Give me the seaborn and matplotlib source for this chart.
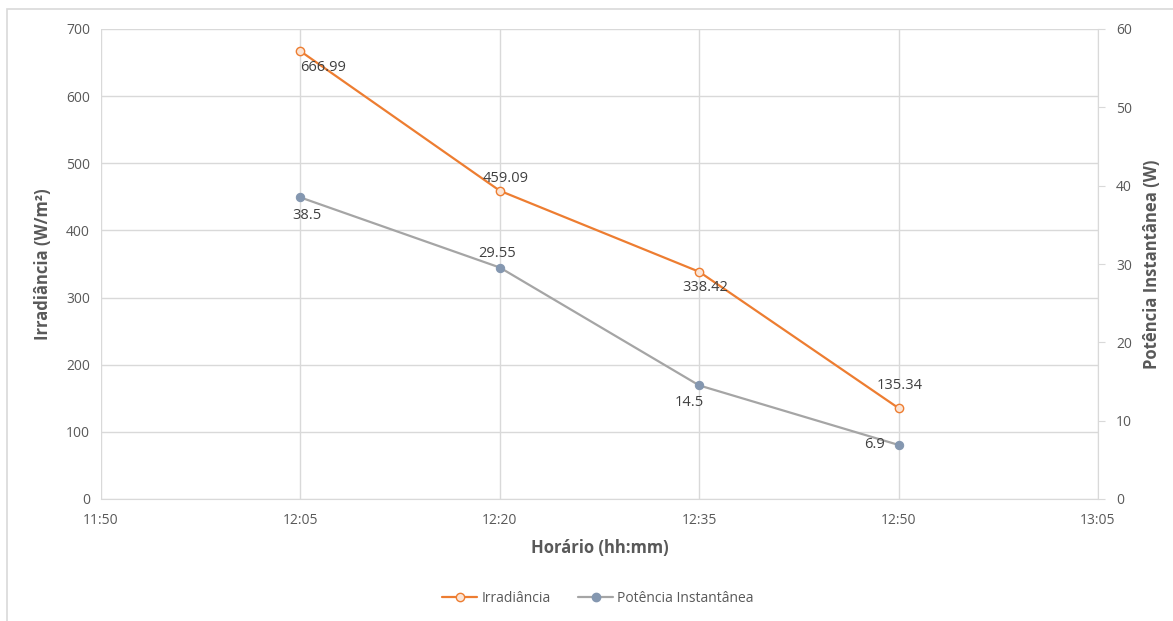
import numpy as np
import pandas as pd
import matplotlib
matplotlib.use("Agg")
import matplotlib.pyplot as plt
from matplotlib.lines import Line2D
from matplotlib.patches import Rectangle
from matplotlib.ticker import FuncFormatter, FixedLocator, MultipleLocator
import seaborn as sns

# dados
horarios = ["12:05", "12:20", "12:35", "12:50"]
irradiancia = [666.99, 459.09, 338.42, 135.34]
potencia = [38.5, 29.55, 14.5, 6.9]
ticks_x = ["11:50", "12:05", "12:20", "12:35", "12:50", "13:05"]

# deslocamento dos rótulos (pixels) e alinhamento
rot_irr = [((0, -16), "left"), ((6, 12), "center"), ((6, -16), "center"), ((1, 23), "center")]
rot_pot = [((7, -18), "center"), ((-3, 14), "center"), ((-10, -17), "center"), ((-14, 0), "right")]


def hhmm_para_min(s):
    h, m = s.split(":")
    return int(h) * 60 + int(m)


df = pd.DataFrame({
    "min": [hhmm_para_min(h) for h in horarios],
    "Irradiância": irradiancia,
    "Potência Instantânea": potencia,
})

sns.set_style("white")
plt.rcParams["font.family"] = ["Open Sans", "DejaVu Sans"]

C_IRR = "#ED7D31"
C_POT = "#A5A5A5"
C_POT_MK = "#8497B0"
C_GRID = "#D9D9D9"
C_TXT = "#595959"
C_LBL = "#404040"

W, H = 1173, 621
fig = plt.figure(figsize=(W / 100, H / 100), dpi=100)
ax = fig.add_axes([101 / W, (H - 499) / H, (1098 - 101) / W, (499 - 29) / H])
ax2 = ax.twinx()

# moldura do gráfico
fig.patches.append(Rectangle((7 / W, -0.05), 1.1, (H - 9) / H + 0.05, transform=fig.transFigure,
                             fill=False, edgecolor=C_GRID, linewidth=1.2))

sns.lineplot(data=df, x="min", y="Irradiância", ax=ax, color=C_IRR, linewidth=1.6,
             marker="o", markersize=6, markerfacecolor="#FBE5D6", markeredgecolor=C_IRR,
             markeredgewidth=1, zorder=3)
sns.lineplot(data=df, x="min", y="Potência Instantânea", ax=ax2, color=C_POT, linewidth=1.6,
             marker="o", markersize=6, markerfacecolor=C_POT_MK, markeredgecolor=C_POT_MK,
             zorder=3)

# eixos
ax.set_xlim(hhmm_para_min(ticks_x[0]), hhmm_para_min(ticks_x[-1]))
ax.xaxis.set_major_locator(FixedLocator([hhmm_para_min(t) for t in ticks_x]))
ax.xaxis.set_major_formatter(FuncFormatter(lambda v, p: f"{int(v) // 60}:{int(v) % 60:02d}"))
ax.set_ylim(0, 700)
ax.yaxis.set_major_locator(MultipleLocator(100))
ax2.set_ylim(0, 60)
ax2.yaxis.set_major_locator(MultipleLocator(10))

ax.grid(True, color=C_GRID, linewidth=1)
ax.set_axisbelow(True)
for a in (ax, ax2):
    for s in a.spines.values():
        s.set_visible(False)
ax.spines["bottom"].set_visible(True)
ax.spines["bottom"].set_color(C_GRID)
ax2.spines["right"].set_visible(True)
ax2.spines["right"].set_color(C_GRID)

ax.tick_params(axis="both", length=0, labelsize=10, labelcolor=C_TXT, pad=8)
ax.tick_params(axis="x", pad=10)
ax2.tick_params(axis="y", length=5, color=C_GRID, labelsize=10, labelcolor=C_TXT, pad=8)

ax.set_xlabel("Horário (hh:mm)", fontsize=12, fontweight="bold", color=C_TXT, labelpad=8)
ax.set_ylabel("Irradiância (W/m²)", fontsize=12, fontweight="bold", color=C_TXT, labelpad=10)
ax2.set_ylabel("Potência Instantânea (W)", fontsize=12, fontweight="bold", color=C_TXT, labelpad=8)

# rótulos de dados
for x, y, ((dx, dy), ha) in zip(df["min"], irradiancia, rot_irr):
    ax.annotate(f"{y:g}", (x, y), xytext=(dx, dy), textcoords="offset pixels",
                ha=ha, va="center", fontsize=10.5, color=C_LBL, zorder=5)
for x, y, ((dx, dy), ha) in zip(df["min"], potencia, rot_pot):
    ax2.annotate(f"{y:g}", (x, y), xytext=(dx, dy), textcoords="offset pixels",
                 ha=ha, va="center", fontsize=10.5, color=C_LBL, zorder=5)

# legenda
handles = [
    Line2D([], [], color=C_IRR, linewidth=1.6, marker="o", markersize=6,
           markerfacecolor="#FBE5D6", markeredgecolor=C_IRR),
    Line2D([], [], color=C_POT, linewidth=1.6, marker="o", markersize=6,
           markerfacecolor=C_POT_MK, markeredgecolor=C_POT_MK),
]
fig.legend(handles, ["Irradiância", "Potência Instantânea"], loc="center",
           bbox_to_anchor=(598 / W, (H - 598) / H), ncol=2, frameon=False,
           fontsize=10, labelcolor=C_TXT, handlelength=2.5, handletextpad=0.3,
           columnspacing=2)

fig.savefig("out.png", dpi=100, facecolor="white")
